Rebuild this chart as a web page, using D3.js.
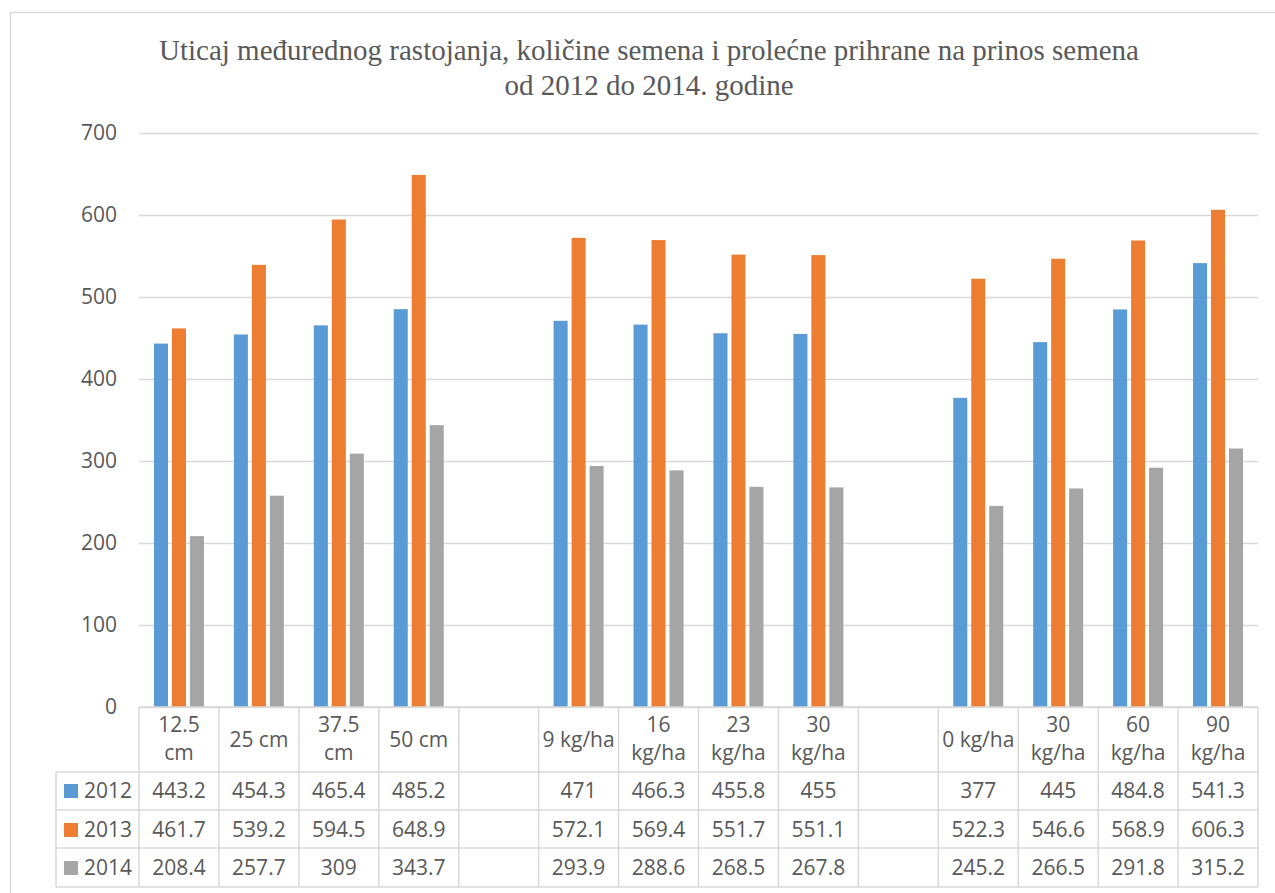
<!DOCTYPE html>
<html>
<head>
<meta charset="utf-8">
<script src="https://cdn.jsdelivr.net/npm/d3@7"></script>
<style>
    body{margin:0;background:#fff;}
    svg{display:block;}
</style>
</head>
<body>
<div id="chart"></div>
<script>
// categories (header labels of the table, \n = line break)
var categories = ["12.5\ncm", "25 cm", "37.5\ncm", "50 cm", "", "9 kg/ha", "16\nkg/ha", "23\nkg/ha", "30\nkg/ha", "", "0 kg/ha", "30\nkg/ha", "60\nkg/ha", "90\nkg/ha"];
var seriesNames = ["2012", "2013", "2014"];
var values2012 = [443.2, 454.3, 465.4, 485.2, null, 471, 466.3, 455.8, 455, null, 377, 445, 484.8, 541.3];
var values2013 = [461.7, 539.2, 594.5, 648.9, null, 572.1, 569.4, 551.7, 551.1, null, 522.3, 546.6, 568.9, 606.3];
var values2014 = [208.4, 257.7, 309, 343.7, null, 293.9, 288.6, 268.5, 267.8, null, 245.2, 266.5, 291.8, 315.2];
var yTicks = [0, 100, 200, 300, 400, 500, 600, 700];
var titleLines = ["Uticaj međurednog rastojanja, količine semena i prolećne prihrane na prinos semena", "od 2012 do 2014. godine"];

var seriesValues = [values2012, values2013, values2014];
var colors = ["#5B9BD5", "#ED7D31", "#A5A5A5"];

var W = 1275, H = 893;
var plotLeft = 139, plotRight = 1258, plotTop = 133, plotBottom = 707;
var gridColor = "#D9D9D9", textColor = "#595959";
var uiFont = "'Open Sans', 'Noto Sans', sans-serif";

var svg = d3.select("#chart").append("svg")
    .attr("width", W)
    .attr("height", H);

// outer frame
svg.append("rect")
    .attr("x", 10.5).attr("y", 12.5)
    .attr("width", W + 20).attr("height", H + 20)
    .attr("fill", "none")
    .attr("stroke", gridColor)
    .attr("stroke-width", 1.5);

// title
var titleX = 649;
svg.append("text")
    .attr("x", titleX)
    .attr("y", 60)
    .attr("text-anchor", "middle")
    .attr("fill", textColor)
    .style("font-family", "'Liberation Serif', 'Times New Roman', serif")
    .style("font-size", "29px")
    .selectAll("tspan").data(titleLines)
    .enter().append("tspan")
    .attr("x", titleX)
    .attr("dy", function (d, i) { return i == 0 ? 0 : 35; })
    .text(function (d) { return d; });

var x = d3.scaleBand()
    .domain(d3.range(categories.length))
    .range([plotLeft, plotRight])
    .paddingInner(0).paddingOuter(0);

var bw = x.bandwidth();
var xs = d3.scaleBand()
    .domain(d3.range(seriesNames.length))
    .range([bw / 2 - 25, bw / 2 + 25])
    .paddingInner(0.22).paddingOuter(0);

var y = d3.scaleLinear()
    .domain([0, 700])
    .range([plotBottom, plotTop]);

// gridlines + y axis labels
var yAxis = d3.axisLeft(y)
    .tickValues(yTicks)
    .tickSize(-(plotRight - plotLeft))
    .tickPadding(22);

var gy = svg.append("g")
    .attr("transform", "translate(" + plotLeft + ",0)")
    .call(yAxis);
gy.select(".domain").remove();
gy.selectAll(".tick line")
    .attr("stroke", gridColor)
    .attr("stroke-width", 1.5);
gy.selectAll(".tick text")
    .attr("fill", textColor)
    .style("font-family", uiFont)
    .style("font-size", "21px");

// bars
var groups = svg.append("g").selectAll("g.series")
    .data(seriesValues)
    .enter().append("g")
    .attr("class", "series")
    .attr("fill", function (d, i) { return colors[i]; });

groups.each(function (vals, si) {
    d3.select(this).selectAll("rect")
        .data(vals.map(function (v, ci) { return {v: v, c: ci}; }).filter(function (d) { return d.v != null; }))
        .enter().append("rect")
        .attr("x", function (d) { return x(d.c) + xs(si); })
        .attr("width", xs.bandwidth())
        .attr("y", function (d) { return y(d.v); })
        .attr("height", function (d) { return y(0) - y(d.v); });
});

// data table
var tableLeft = 56;
var rowLines = [plotBottom, 772, 810, 848, 887];
var table = svg.append("g").attr("class", "table")
    .attr("stroke", gridColor)
    .attr("stroke-width", 1.5);

// horizontal lines
table.selectAll("line.h")
    .data(rowLines)
    .enter().append("line")
    .attr("class", "h")
    .attr("x1", function (d, i) { return i == 0 ? plotLeft : tableLeft; })
    .attr("x2", plotRight)
    .attr("y1", function (d) { return d; })
    .attr("y2", function (d) { return d; });

// vertical lines
var colEdges = d3.range(categories.length).map(function (i) { return x(i); }).concat([plotRight]);
table.selectAll("line.v")
    .data(colEdges)
    .enter().append("line")
    .attr("class", "v")
    .attr("x1", function (d) { return d; })
    .attr("x2", function (d) { return d; })
    .attr("y1", plotBottom)
    .attr("y2", rowLines[4]);
table.append("line")
    .attr("x1", tableLeft).attr("x2", tableLeft)
    .attr("y1", rowLines[1]).attr("y2", rowLines[4]);

// header texts
var header = svg.append("g")
    .attr("fill", textColor)
    .style("font-family", uiFont)
    .style("font-size", "21px")
    .attr("text-anchor", "middle");

header.selectAll("text")
    .data(categories)
    .enter().append("text")
    .each(function (d, i) {
        var lines = d.split("\n");
        var t = d3.select(this);
        var cx = x(i) + bw / 2;
        var startY = lines.length > 1 ? 732 : 747;
        lines.forEach(function (ln, k) {
            t.append("tspan")
                .attr("x", cx)
                .attr("y", startY + k * 28)
                .text(ln);
        });
    });

// value rows
var rowBase = [798, 837, 875];
seriesValues.forEach(function (vals, si) {
    var row = svg.append("g")
        .attr("fill", textColor)
        .style("font-family", uiFont)
        .style("font-size", "21px");

    row.selectAll("text")
        .data(vals)
        .enter().append("text")
        .attr("text-anchor", "middle")
        .attr("x", function (d, i) { return x(i) + bw / 2; })
        .attr("y", rowBase[si])
        .text(function (d) { return d == null ? "" : d; });

    // legend key
    row.append("rect")
        .attr("x", 64)
        .attr("y", rowBase[si] - 14)
        .attr("width", 14)
        .attr("height", 14)
        .attr("fill", colors[si]);
    row.append("text")
        .attr("x", 84)
        .attr("y", rowBase[si])
        .text(seriesNames[si]);
});
</script>
</body>
</html>
